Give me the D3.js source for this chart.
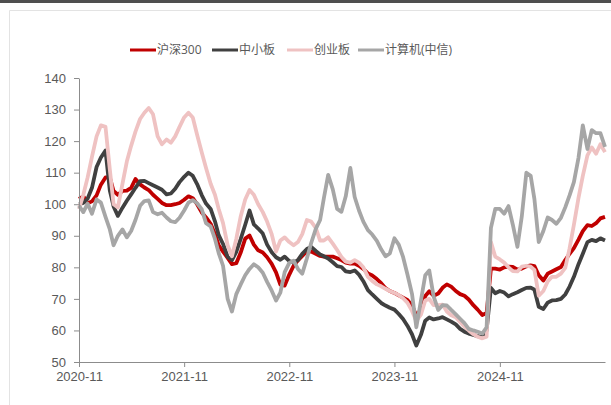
<!DOCTYPE html>
<meta charset="utf-8">
<style>
  html, body { margin:0; padding:0; background:#fff; overflow:hidden; }
  svg { display:block; font-family:"Open Sans","Noto Sans CJK SC",sans-serif; }
</style>
<svg width="611" height="405"></svg>
<script src="https://cdn.jsdelivr.net/npm/d3@7"></script>
<script>

// semi-monthly observations, 2020-11-01 .. 2025-11-01
var dates = d3.range(121).map(function(i) {
  return new Date(Date.UTC(2020, 10 + Math.floor(i / 2), i % 2 ? 16 : 1));
});

var hs300 = [101.7,102.5,100.3,100.9,102.8,106.2,108.5,108.5,104.2,103,104.2,104.3,105.2,108,106.3,105.3,104.5,103,101.7,100.4,
  99.7,99.7,100,100.4,101.4,102.5,101.9,100,97.4,95.8,93.8,90.5,87,85,83,81,81.3,84.6,89.1,90.1,
  87.2,85.4,84.7,83.2,81.1,78.4,74.5,74.2,77.7,80.5,82.2,83.6,85.1,85,84.3,83.6,83.4,83.4,83.4,82.9,
  82.3,81.5,81.2,81.2,80.5,79.5,78.1,77.4,76.3,75,73.4,72.5,71.9,71.1,70.4,69.7,67.9,64.7,66.6,70.9,
  72.4,71,71.7,73.5,74.6,73.9,72.5,71.5,71,69.8,68,66.6,64.9,65.5,79.6,79.6,79.3,80,80.2,80.1,
  79.3,79.6,80.3,80.6,80.4,77.5,75.8,78,78.7,79.4,80.1,82.3,84.3,86.1,88.8,91.5,93.4,93.1,94,95.5,96];

var zxb = [100,100.4,101.8,105.2,111.8,114.8,117,104.3,99.3,96.3,98.9,101.1,103.1,105.2,107.3,107.4,106.7,106,105.3,104.6,
  103.1,103.4,104.9,107,108.7,110,109,106.4,102.9,100.2,98.5,94.6,90.2,87.4,83.3,82.3,84.9,88.9,93.5,98,
  93.6,92.3,90.7,87.2,84.8,83.2,82.4,83.4,82,81.5,82.3,84.3,85.8,86.5,85.2,84.1,83.5,82.8,81.6,80.4,
  80.1,78.7,78.5,79,77.7,75.6,72.8,71.4,70,68.7,67.9,67.2,66.6,65.2,63.6,61.5,58.8,55.2,58.6,63.1,
  64.1,63.5,63.8,64.2,63.5,62.8,61.9,60.5,59.6,59,58.6,58.2,57.8,60,73.5,71.8,72.5,72,70.8,71.5,
  72.1,72.8,73.5,73.6,72.9,67.5,66.8,68.8,69.5,69.6,70,71.4,73.9,77,81,84.3,88,88.7,88.3,89.2,88.5];

var cyb = [98.5,103,108.5,115,121.5,125,124.5,111,100,99,106.5,113.5,118.5,123,127,129,130.5,128.5,121.5,119,
  120.5,119.5,121.5,124.5,127.5,129,127.5,122,116.5,111.5,106.5,103,98.5,94,87,83.5,89,96,101.5,104.5,
  103,100,97.5,94.5,90.5,85,88.5,89.5,88,87,88,90.5,95,94.5,92.5,88.5,88.5,89.5,87.5,85.5,
  83.3,81.8,81.5,82.3,81.5,80,77,75.7,74.6,74,73.2,72.5,71.9,71.2,70.2,68.8,66.2,63,65,69.5,
  70,68,68,68.2,66,64.8,64.2,62.7,61.2,60,58.8,58,57.5,58,88,83.4,82.5,81.5,80,78.8,
  78.7,80.2,80.5,80.2,79.2,71,72.5,75.5,77,77,78,79.8,86,93.5,102,109,115.5,118,116,119,116.5];

var jsj = [99.5,97.5,100.2,97,101.5,100.5,96,92,87,90,92,89.5,91.5,95,99.5,101,101.2,97.5,96.8,97.3,
  95.8,94.6,94.3,95.7,98,100.5,101.3,100.3,98.4,94,93,89,84.5,80.5,70,66,71.5,74.5,77.5,79.5,
  81,80,78.3,75.4,72.6,69.5,72,78.5,81.4,82.1,79.5,78,82.8,87.7,92.2,95,101.9,109.3,104.7,98.5,
  97.6,102.5,111.5,102.3,98,94.5,91.8,90.4,88.4,85.7,83.5,84.4,89.2,87.2,83.3,77.8,71.6,61,69.5,77.5,
  79,70.8,66.5,68,67.9,66.5,65.1,63.7,62.3,60.5,60,59.6,59,61,92.5,98.5,98.5,97,99.4,93.5,
  86.5,96,110,109,101.6,88,91.5,95.8,95,93.8,95.7,99,102.8,107,114.7,125,117.5,123.5,122.5,122.5,118.2];

var seriesNames = ["沪深300", "中小板", "创业板", "计算机(中信)"];
var seriesColors = ["#c00000", "#404040", "#efc2c2", "#a6a6a6"];
var seriesValues = [hs300, zxb, cyb, jsj];

var yTicks = [50, 60, 70, 80, 90, 100, 110, 120, 130, 140];
var xTickLabels = ["2020-11", "2021-11", "2022-11", "2023-11", "2024-11"];

var svg = d3.select("svg");

// frame bits
svg.append("rect").attr("x", 0).attr("y", 0).attr("width", 611).attr("height", 3).attr("fill", "#4f4f4f");
svg.append("path").attr("d", "M9.5,405V10.5H611").attr("fill", "none").attr("stroke", "#e3e3e3");

var x = d3.scaleUtc()
    .domain([new Date(Date.UTC(2020, 10, 1)), new Date(Date.UTC(2025, 10, 1))])
    .range([79, 605]);

var y = d3.scaleLinear()
    .domain([50, 140])
    .range([362, 78]);

var line = d3.line()
    .x(function(d, i) { return x(dates[i]); })
    .y(function(d) { return y(d); });

svg.append("g")
  .selectAll("path")
  .data(seriesValues)
  .enter().append("path")
    .attr("fill", "none")
    .attr("stroke", function(d, i) { return seriesColors[i]; })
    .attr("stroke-width", 3.8)
    .attr("stroke-linejoin", "round")
    .attr("d", line);

var yAxis = svg.append("g")
    .attr("transform", "translate(79,0)")
    .call(d3.axisLeft(y).tickValues(yTicks).tickSize(5).tickPadding(8).tickSizeOuter(0));

var xAxis = svg.append("g")
    .attr("transform", "translate(0,362)")
    .call(d3.axisBottom(x)
      .tickValues(xTickLabels.map(function(s) { return new Date(s + "-01T00:00:00Z"); }))
      .tickFormat(function(d, i) { return xTickLabels[i]; })
      .tickSize(5).tickPadding(5).tickSizeOuter(0));

[yAxis, xAxis].forEach(function(g) {
  g.select(".domain").attr("stroke", "#8c8c8c");
  g.selectAll(".tick line").attr("stroke", "#8c8c8c");
  g.selectAll(".tick text").attr("fill", "#595959").style("font-size", "13px");
});

// legend
var legendX = [130, 212, 287, 358];
var legend = svg.append("g")
  .selectAll("g")
  .data(seriesNames)
  .enter().append("g")
    .attr("transform", function(d, i) { return "translate(" + legendX[i] + ",50)"; });

legend.append("line")
    .attr("x1", 0).attr("x2", 26)
    .attr("stroke", function(d, i) { return seriesColors[i]; })
    .attr("stroke-width", 3);

legend.append("text")
    .attr("x", 27)
    .attr("dy", "0.35em")
    .attr("fill", "#595959")
    .style("font-size", "12px")
    .text(function(d) { return d; });

</script>
